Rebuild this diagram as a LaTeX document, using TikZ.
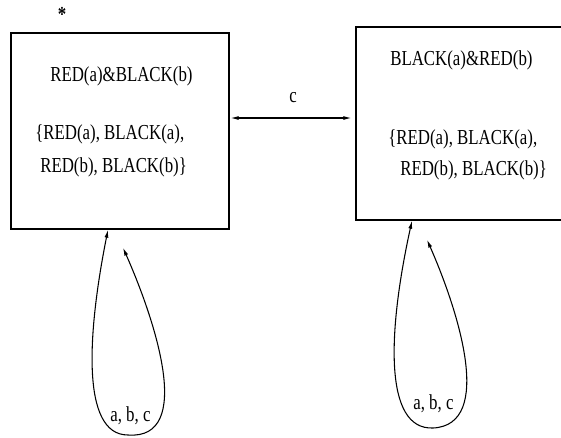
\documentclass[tikz,border=0pt]{standalone}
\usepackage{fontspec}
\setmainfont[FakeStretch=0.79]{Liberation Serif}
\usetikzlibrary{arrows.meta,positioning,calc}

\begin{document}
\begin{tikzpicture}[x=0.75pt,y=0.75pt,yscale=-1,xscale=1,
	statebox/.style={draw,line width=1pt,inner sep=0pt},
	lbl/.style={inner sep=0pt,font=\fontsize{16}{19}\selectfont},
	tip/.style={line width=0.8pt,{Latex[length=6pt,width=3pt]}-{Latex[length=6pt,width=3pt]}}]
		\useasboundingbox (0,0) rectangle (561,437);
		
		%Shape: Rectangle (left state)
		\node [statebox,minimum width=163.5pt,minimum height=147pt] (s1) at (120,131) {};
		%Shape: Rectangle (right state, runs past the page edge)
		\node [statebox,minimum width=157.5pt,minimum height=144.75pt] (s2) at (461,123.5) {};
		
		% Text Node
		\node [lbl] (star) at (62,14) {\textbf{*}};
		% Text Node
		\node [lbl,anchor=base west] (f1) at (50,81) {RED(a)\&BLACK(b)};
		% Text Node
		\node [lbl,anchor=base west] (d1a) at (35,139) {\{RED(a), BLACK(a),};
		% Text Node
		\node [lbl,anchor=base west] (d1b) at (40,172) {RED(b), BLACK(b)\}};
		% Text Node
		\node [lbl,anchor=base west] (f2) at (390,65) {BLACK(a)\&RED(b)};
		% Text Node
		\node [lbl,anchor=base west] (d2a) at (388,144) {\{RED(a), BLACK(a),};
		% Text Node
		\node [lbl,anchor=base west] (d2b) at (400,175) {RED(b), BLACK(b)\}};
		
		%Straight Lines (c)
		\coordinate (cL) at ($(s1.east)+(1,-13)$);
		\draw [tip,shorten >=3pt] (cL) -- (cL -| s2.west) node [lbl,midway,above=11pt] (c) {c};
		
		%Curve Lines (left loop)
		\coordinate (l1a) at ($(s1.south)+(-12,0)$);
		\coordinate (l1b) at ($(s1.south)+(3,18)$);
		\draw [tip] (l1b) .. controls (155,320) and (195,440) .. (128,435) .. controls (80,435) and (88,330) .. (l1a);
		% Text Node
		\node [lbl,anchor=base west] (e1) at (110,421) {a, b, c};
		
		%Curve Lines (right loop)
		\coordinate (l2a) at ($(s2.south)+(-49,0)$);
		\coordinate (l2b) at ($(s2.south)+(-34,19)$);
		\draw [tip] (l2b) .. controls (458,310) and (495,425) .. (433,428) .. controls (383,430) and (388,330) .. (l2a);
		% Text Node
		\node [lbl,anchor=base west] (e2) at (413,409) {a, b, c};
		
\end{tikzpicture}
\end{document}
